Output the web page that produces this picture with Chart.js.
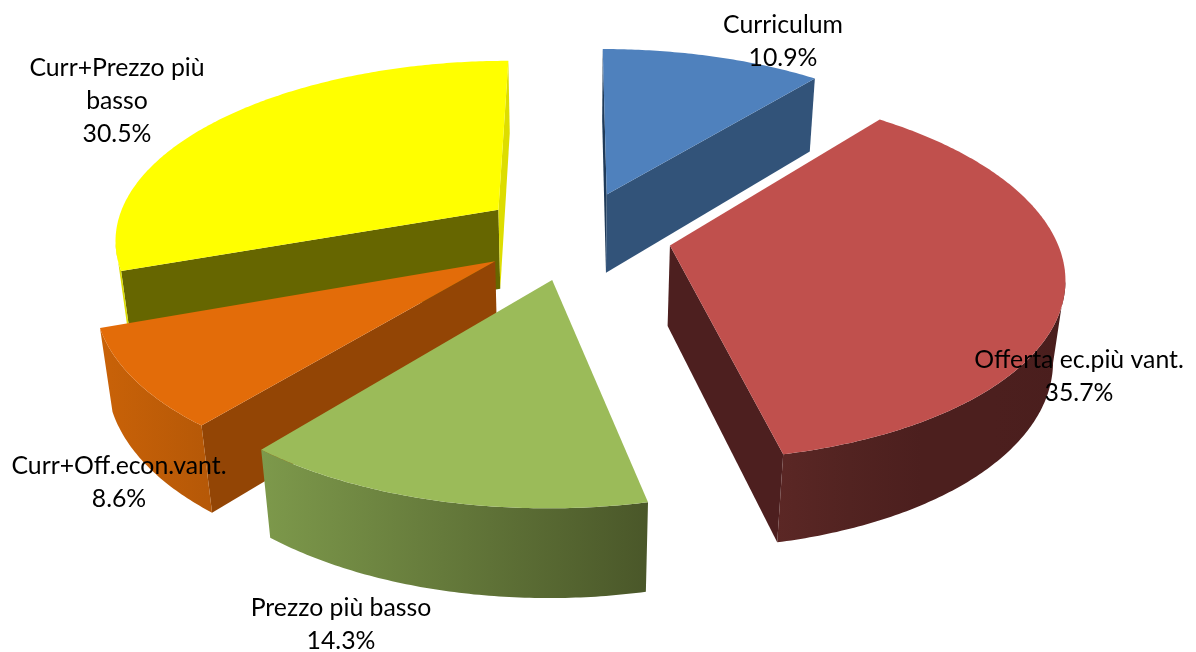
<!DOCTYPE html>
<html>
<head>
<meta charset="utf-8">
<title>Criteri di aggiudicazione</title>
<script src="https://cdn.jsdelivr.net/npm/chart.js@4/dist/chart.umd.js"></script>
<style>
  html, body { margin: 0; padding: 0; background: #fff; }
  canvas { display: block; }
</style>
</head>
<body>
<canvas id="pie" width="1196" height="652"></canvas>
<script>
// Data
const categories = ["Curriculum", "Offerta ec.più vant.", "Prezzo più basso", "Curr+Off.econ.vant.", "Curr+Prezzo più basso"]
const percentages = [10.9, 35.7, 14.3, 8.6, 30.5]

// Label text lines and where they sit (centre x, first line y)
const labelLines = [["Curriculum"], ["Offerta ec.più vant."], ["Prezzo più basso"], ["Curr+Off.econ.vant."], ["Curr+Prezzo più", "basso"]]
const labelAnchors = [[783, 25], [1079, 360], [341, 608], [119, 466], [117, 68]]

// Slice colours
const topColors = ["#4f81bd", "#c0504d", "#9bbb59", "#e36c09", "#ffff00"]
const startWallColors = ["#1f3a58", "#4d1f1f", "#4a5729", "#934505", "#666600"]
const endWallColors = ["#325379", "#4d1f1f", "#4a5729", "#934505", "#dddd00"]
// Outer wall shading, left to right on screen
const outerWallColors = [
  ["#325379", "#325379"],
  ["#5b2725", "#522321", "#4c1f1e", "#4c1f1e", "#4a1e1d"],
  ["#7d994b", "#4a5729"],
  ["#c96208", "#b55807"],
  ["#dcdc00", "#dcdc00"],
]

// Camera of the tilted pie: plane scale, perspective strength, thickness
const camera = { cx: 575.5, cy: 235, scaleX: 385, scaleY: 178.6, persp: 0.151, depth: 82, depthPersp: 0.025 }
const RADIUS = 200
const EXPLODE = 200 // chart.js moves an arc by offset / 4

function project(x, y, bottom) {
  const w = 1 / (1 - camera.persp * y + (bottom ? camera.depthPersp : 0))
  return {
    x: camera.cx + camera.scaleX * x * w,
    y: camera.cy + (camera.scaleY * y + (bottom ? camera.depth : 0)) * w,
  }
}

function tracePath(ctx, points) {
  ctx.beginPath()
  points.forEach((p, i) => (i ? ctx.lineTo(p.x, p.y) : ctx.moveTo(p.x, p.y)))
  ctx.closePath()
}

// Walls are only seen where the outline runs right to left
function drawWall(ctx, from, to, color) {
  const a = project(from[0], from[1], false)
  const b = project(to[0], to[1], false)
  if (b.x >= a.x) return
  tracePath(ctx, [a, b, project(to[0], to[1], true), project(from[0], from[1], true)])
  ctx.fillStyle = color
  ctx.fill()
}

function drawOuterWall(ctx, rim, stops) {
  const topEdge = rim.map((p) => project(p[0], p[1], false))
  const visible = rim.filter((p, i) => (i < rim.length - 1 ? topEdge[i + 1].x < topEdge[i].x : topEdge[i].x < topEdge[i - 1].x))
  if (visible.length < 2) return
  const upper = visible.map((p) => project(p[0], p[1], false))
  const lower = visible.map((p) => project(p[0], p[1], true)).reverse()
  const xs = upper.concat(lower).map((p) => p.x)
  const gradient = ctx.createLinearGradient(Math.min(...xs), 0, Math.max(...xs), 0)
  stops.forEach((color, i) => gradient.addColorStop(i / (stops.length - 1), color))
  tracePath(ctx, upper.concat(lower))
  ctx.fillStyle = gradient
  ctx.fill()
}

function drawSlice(ctx, arc, index) {
  const { startAngle, endAngle, outerRadius } = arc
  const mid = (startAngle + endAngle) / 2
  const shift = arc.options.offset / 4 / outerRadius
  const apex = [Math.cos(mid) * shift, Math.sin(mid) * shift]
  const steps = Math.ceil((endAngle - startAngle) * 90)
  const rim = []
  for (let i = 0; i <= steps; i++) {
    const a = startAngle + ((endAngle - startAngle) * i) / steps
    rim.push([apex[0] + Math.cos(a), apex[1] + Math.sin(a)])
  }

  drawWall(ctx, apex, rim[0], startWallColors[index])
  drawWall(ctx, rim[steps], apex, endWallColors[index])
  drawOuterWall(ctx, rim, outerWallColors[index])

  tracePath(ctx, [project(apex[0], apex[1], false)].concat(rim.map((p) => project(p[0], p[1], false))))
  ctx.fillStyle = arc.options.backgroundColor
  ctx.fill()
}

const tiltedPie = {
  id: "tiltedPie",
  beforeDatasetDraw(chart, args) {
    const ctx = chart.ctx
    const arcs = args.meta.data
    const order = arcs.map((arc, i) => i)
    const depthOf = (i) => Math.sin((arcs[i].startAngle + arcs[i].endAngle) / 2)
    order.sort((a, b) => depthOf(a) - depthOf(b))
    ctx.save()
    order.forEach((i) => drawSlice(ctx, arcs[i], i))
    ctx.restore()
    return false
  },
  afterDatasetsDraw(chart) {
    const ctx = chart.ctx
    ctx.save()
    ctx.fillStyle = "#000"
    ctx.font = '24.8px Lato, "Open Sans", sans-serif'
    ctx.textAlign = "center"
    ctx.textBaseline = "middle"
    percentages.forEach((value, i) => {
      const lines = labelLines[i].concat(value.toFixed(1) + "%")
      lines.forEach((line, n) => ctx.fillText(line, labelAnchors[i][0], labelAnchors[i][1] + n * 33))
    })
    ctx.restore()
  },
}

new Chart(document.getElementById("pie"), {
  type: "pie",
  data: {
    labels: categories,
    datasets: [
      {
        data: percentages,
        backgroundColor: topColors,
        borderWidth: 0,
        offset: EXPLODE,
      },
    ],
  },
  options: {
    responsive: false,
    animation: false,
    radius: RADIUS,
    plugins: {
      legend: { display: false },
      tooltip: { enabled: false },
    },
  },
  plugins: [tiltedPie],
})
</script>
</body>
</html>
